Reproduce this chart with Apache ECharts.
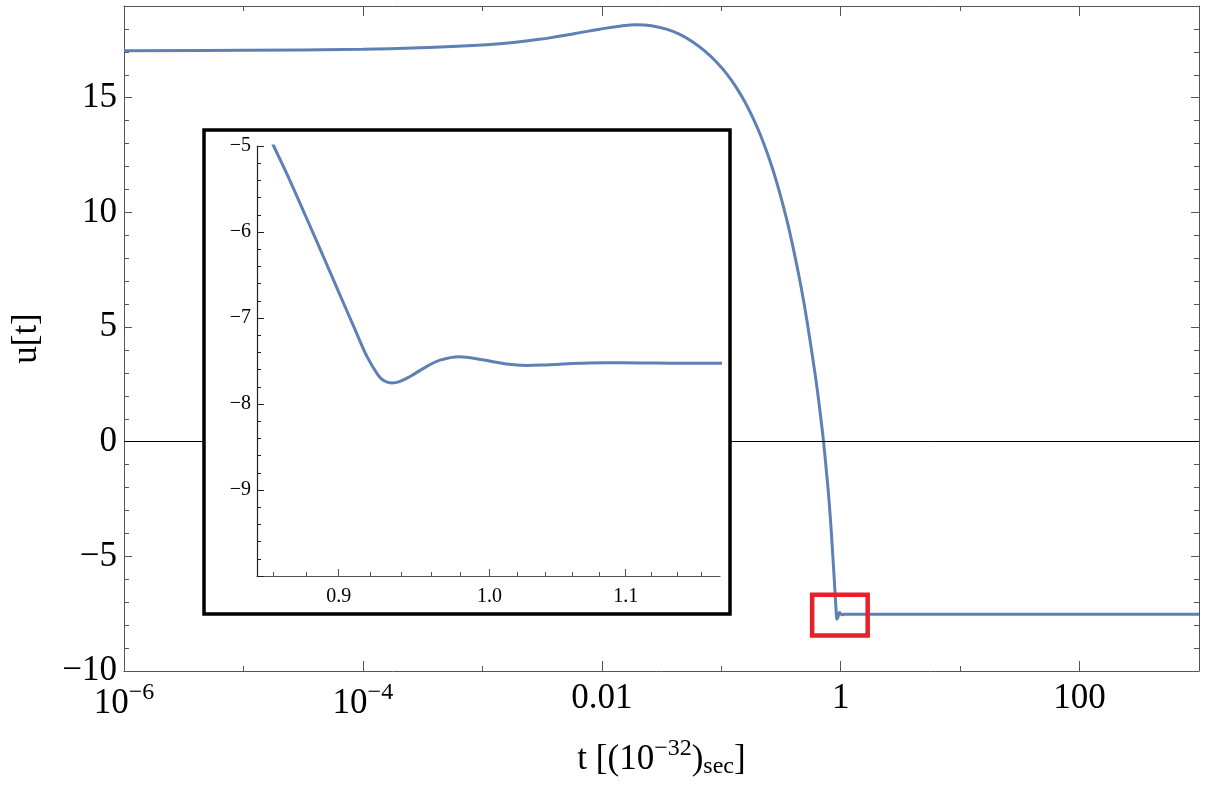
<!DOCTYPE html>
<html>
<head>
<meta charset="utf-8">
<script src="https://cdn.jsdelivr.net/npm/echarts@6/dist/echarts.min.js"></script>
<style>
  html, body { margin: 0; padding: 0; background: #fff; }
  #main { width: 1216px; height: 804px; }
</style>
</head>
<body>
<div id="main"></div>
<script>
// u[t] curve (t in units of 1e-32 s)
var tVals = [1e-6, 1e-5, 1e-4, 3e-4, 1.4e-3, 3.67e-3, 6e-3, 9.62e-3, 0.0141, 0.0195,
  0.026, 0.0348, 0.045, 0.0578, 0.073, 0.0912, 0.112, 0.134, 0.158, 0.185,
  0.21, 0.239, 0.27, 0.309, 0.37, 0.454, 0.52, 0.606, 0.65, 0.693,
  0.72, 0.76, 0.79, 0.82, 0.84, 0.86, 0.87, 0.88, 0.89, 0.90,
  0.91, 0.918, 0.925, 0.929, 0.934, 0.939, 0.946, 0.957, 0.966, 0.979,
  0.995, 1.012, 1.026, 1.043, 1.065, 1.085, 1.110, 1.136, 1.174, 1.5,
  3, 10, 100, 1000];
var uVals = [17.05, 17.07, 17.11, 17.18, 17.35, 17.61, 17.80, 17.99, 18.12, 18.18,
  18.14, 17.99, 17.76, 17.43, 17.03, 16.56, 16.02, 15.44, 14.81, 14.10,
  13.45, 12.69, 11.88, 10.85, 9.26, 7.06, 5.33, 3.07, 1.91, 0.73,
  -0.03, -1.3, -2.24, -3.35, -4.15, -5.0, -5.41, -5.84, -6.27, -6.70,
  -7.12, -7.45, -7.66, -7.73, -7.755, -7.74, -7.68, -7.565, -7.49, -7.45,
  -7.485, -7.535, -7.552, -7.543, -7.527, -7.52, -7.522, -7.525, -7.525, -7.525,
  -7.525, -7.525, -7.525, -7.525];

// main axes ticks
var xMajorTicks = [1e-6, 1e-4, 0.01, 1, 100];
var xMajorText = ['{n|10}{s|\u22126}', '{n|10}{s|\u22124}', '{n|0.01}', '{n|1}', '{n|100}'];
var xMinorTicks = [1e-5, 1e-3, 0.1, 10, 1000];
var yMajorTicks = [-10, -5, 0, 5, 10, 15];
var yMinorTicks = [];
for (var i = -10; i <= 19; i++) yMinorTicks.push(i);

// inset axes ticks
var insetXMajor = [0.9, 1.0, 1.1];
var insetXMinor = [0.86, 0.88, 0.92, 0.94, 0.96, 0.98, 1.02, 1.04, 1.06, 1.08, 1.12, 1.14, 1.16];
var insetYMajor = [-10, -9, -8, -7, -6, -5];
var insetYLabels = [-9, -8, -7, -6, -5];
var insetYMinor = [];
for (var k = -50; k <= -25; k++) insetYMinor.push(k / 5);

// zoom marker (red box) corners
var boxCorner1 = [0.577, -6.68];
var boxCorner2 = [1.683, -8.45];

var serif = "'Liberation Serif', 'Times New Roman', serif";
var axisCol = '#555';
var lineCol = '#5e81b5';

var pts = [];
for (var j = 0; j < tVals.length; j++) pts.push([tVals[j], uVals[j]]);

function minus(v) {
  return v < 0 ? '\u2212' + (-v) : '' + v;
}

function xAx(opt) {
  var base = {
    type: 'log', logBase: 10, gridIndex: 0, min: 1e-6, max: 1000,
    axisLine: { show: true, onZero: false, lineStyle: { color: axisCol, width: 1 } },
    axisTick: { show: true, inside: true, length: 10, lineStyle: { color: axisCol, width: 1 } },
    axisLabel: { show: false },
    splitLine: { show: false }
  };
  return Object.assign(base, opt);
}
function yAx(opt) {
  var base = {
    type: 'value', gridIndex: 0, min: -10, max: 19,
    axisLine: { show: true, onZero: false, lineStyle: { color: axisCol, width: 1 } },
    axisTick: { show: true, inside: true, length: 8, lineStyle: { color: axisCol, width: 1 } },
    axisLabel: { show: false },
    splitLine: { show: false }
  };
  return Object.assign(base, opt);
}

var chart = echarts.init(document.getElementById('main'));
var option = {
  animation: false,
  backgroundColor: '#fff',
  grid: [
    { left: 124, right: 17, top: 6, bottom: 133 },
    { left: 257, top: 146, width: 463, height: 430 }
  ],
  xAxis: [
    xAx({
      position: 'bottom',
      axisTick: { show: true, inside: true, length: 10, customValues: xMajorTicks, lineStyle: { color: axisCol } },
      axisLabel: {
        show: true, customValues: xMajorTicks, margin: 10, color: '#000',
        fontFamily: serif, fontSize: 35,
        formatter: function (v) {
          for (var i = 0; i < xMajorTicks.length; i++) {
            if (Math.abs(Math.log10(v) - Math.log10(xMajorTicks[i])) < 1e-6) return xMajorText[i];
          }
          return '';
        },
        rich: {
          n: { fontFamily: serif, fontSize: 35, color: '#000' },
          s: { fontFamily: serif, fontSize: 24, color: '#000', padding: [0, 0, 22, 0] }
        }
      },
      name: '{a|t [(10}{s|\u221232}{a|)}{b|sec}{a|]}',
      nameLocation: 'middle', nameGap: 66,
      nameTextStyle: {
        rich: {
          a: { fontFamily: serif, fontSize: 35, color: '#000' },
          s: { fontFamily: serif, fontSize: 24, color: '#000', padding: [0, 0, 22, 0] },
          b: { fontFamily: serif, fontSize: 24, color: '#000', padding: [14, 0, 0, 0] }
        }
      }
    }),
    xAx({ position: 'bottom', axisLine: { show: false, onZero: false },
      axisTick: { show: true, inside: true, length: 5, customValues: xMinorTicks, lineStyle: { color: axisCol } } }),
    xAx({ position: 'top',
      axisTick: { show: true, inside: true, length: 10, customValues: xMajorTicks, lineStyle: { color: axisCol } } }),
    xAx({ position: 'top', axisLine: { show: false, onZero: false },
      axisTick: { show: true, inside: true, length: 5, customValues: xMinorTicks, lineStyle: { color: axisCol } } }),
    // inset
    {
      type: 'log', logBase: 10, gridIndex: 1, min: 0.85, max: 1.175, position: 'bottom', z: 10,
      axisLine: { show: true, onZero: false, lineStyle: { color: axisCol, width: 1.2 } },
      axisTick: { show: true, inside: true, length: 7, customValues: insetXMajor, lineStyle: { color: axisCol } },
      axisLabel: {
        show: true, customValues: insetXMajor, margin: 11, color: '#000',
        fontFamily: serif, fontSize: 20,
        formatter: function (v) { return v.toFixed(1); }
      },
      splitLine: { show: false }
    },
    {
      type: 'log', logBase: 10, gridIndex: 1, min: 0.85, max: 1.175, position: 'bottom', z: 10,
      axisLine: { show: false, onZero: false },
      axisTick: { show: true, inside: true, length: 4, customValues: insetXMinor, lineStyle: { color: axisCol } },
      axisLabel: { show: false },
      splitLine: { show: false }
    }
  ],
  yAxis: [
    yAx({
      position: 'left',
      axisTick: { show: true, inside: true, length: 8, customValues: yMajorTicks, lineStyle: { color: axisCol } },
      axisLabel: {
        show: true, customValues: yMajorTicks, margin: 7, color: '#000',
        fontFamily: serif, fontSize: 35,
        formatter: function (v) { return minus(v); }
      },
      name: 'u[t]', nameLocation: 'middle', nameGap: 80, nameRotate: 90,
      nameTextStyle: { fontFamily: serif, fontSize: 35, color: '#000' }
    }),
    yAx({ position: 'left', axisLine: { show: false, onZero: false },
      axisTick: { show: true, inside: true, length: 5, customValues: yMinorTicks, lineStyle: { color: axisCol } } }),
    yAx({ position: 'right',
      axisTick: { show: true, inside: true, length: 8, customValues: yMajorTicks, lineStyle: { color: axisCol } } }),
    yAx({ position: 'right', axisLine: { show: false, onZero: false },
      axisTick: { show: true, inside: true, length: 5, customValues: yMinorTicks, lineStyle: { color: axisCol } } }),
    // inset
    {
      type: 'value', gridIndex: 1, min: -10, max: -5, position: 'left', z: 10,
      axisLine: { show: true, onZero: false, lineStyle: { color: '#222', width: 1.2 } },
      axisTick: { show: true, inside: true, length: 7, customValues: insetYMajor, lineStyle: { color: '#222' } },
      axisLabel: {
        show: true, customValues: insetYLabels, margin: 6, color: '#000',
        fontFamily: serif, fontSize: 20,
        formatter: function (v) { return minus(v); }
      },
      splitLine: { show: false }
    },
    {
      type: 'value', gridIndex: 1, min: -10, max: -5, position: 'left', z: 10,
      axisLine: { show: false, onZero: false },
      axisTick: { show: true, inside: true, length: 4, customValues: insetYMinor, lineStyle: { color: '#222' } },
      axisLabel: { show: false },
      splitLine: { show: false }
    }
  ],
  graphic: [
    {
      type: 'rect', z: 8,
      shape: { x: 204, y: 130, width: 526, height: 484 },
      style: { fill: '#fff', stroke: '#000', lineWidth: 3.5 }
    }
  ],
  series: [
    {
      type: 'line', xAxisIndex: 0, yAxisIndex: 0, data: pts,
      showSymbol: false, smooth: 0.4, z: 2,
      lineStyle: { color: lineCol, width: 3 },
      markLine: {
        silent: true, symbol: ['none', 'none'], z: 3,
        label: { show: false },
        lineStyle: { color: '#000', width: 1, type: 'solid' },
        data: [{ yAxis: 0 }]
      },
      markArea: {
        silent: true, z: 6,
        itemStyle: { color: 'rgba(0,0,0,0)', borderColor: '#e8202a', borderWidth: 4.5 },
        data: [[{ coord: boxCorner1 }, { coord: boxCorner2 }]]
      }
    },
    {
      type: 'line', xAxisIndex: 4, yAxisIndex: 4, data: pts,
      showSymbol: false, smooth: 0.4, z: 10, clip: true,
      lineStyle: { color: lineCol, width: 3 }
    }
  ]
};
chart.setOption(option);
</script>
</body>
</html>
